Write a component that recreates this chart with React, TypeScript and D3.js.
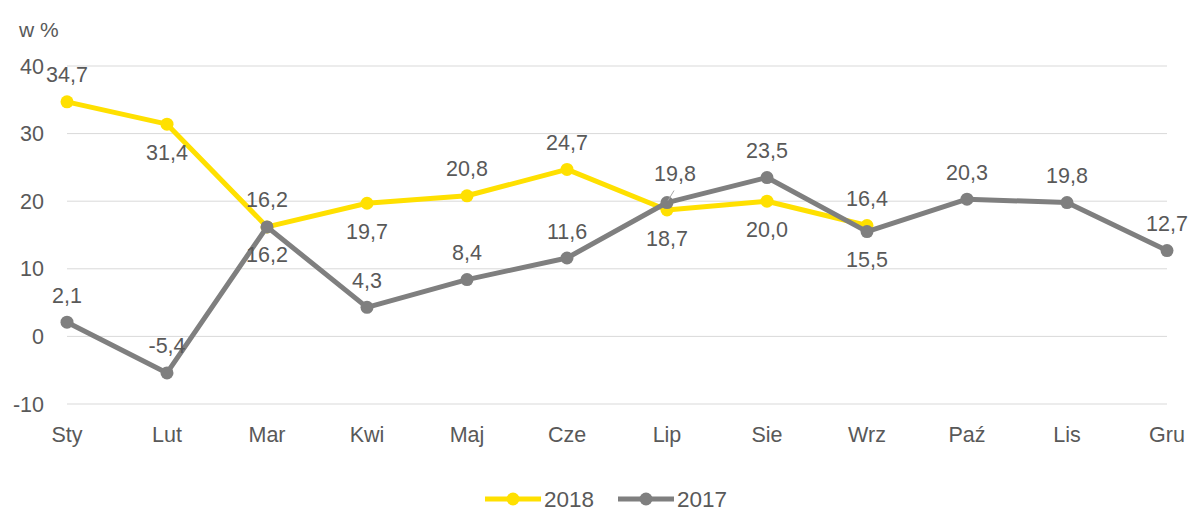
import React from "react";
import * as d3 from "d3";

const months = ["Sty", "Lut", "Mar", "Kwi", "Maj", "Cze", "Lip", "Sie", "Wrz", "Paź", "Lis", "Gru"];
const values2018: (number | null)[] = [34.7, 31.4, 16.2, 19.7, 20.8, 24.7, 18.7, 20.0, 16.4, null, null, null];
const values2017: number[] = [2.1, -5.4, 16.2, 4.3, 8.4, 11.6, 19.8, 23.5, 15.5, 20.3, 19.8, 12.7];
// label placement: 1 = above, -1 = below
const pos2018 = [1, -1, 1, -1, 1, 1, -1, -1, 1];
const pos2017 = [1, 1, -1, 1, 1, 1, 1, 1, -1, 1, 1, 1];
const yTicks = [-10, 0, 10, 20, 30, 40];

const W = 1200;
const H = 511;
const YELLOW = "#FFE000";
const GRAY = "#7F7F7F";
const TEXT = "#595959";
const FONT = "'Liberation Sans', Arial, sans-serif";

export default function App() {
  const x = d3.scalePoint<string>().domain(months).range([67, 1167]);
  const y = d3.scaleLinear().domain([-10, 40]).range([404, 66]);

  const fmt = (v: number) => v.toFixed(1).replace(".", ",");

  const line = d3
    .line<number | null>()
    .defined((d) => d !== null)
    .x((_, i) => x(months[i])!)
    .y((d) => y(d as number));

  const series = [
    { name: "2018", vals: values2018, color: YELLOW, pos: pos2018 },
    { name: "2017", vals: values2017 as (number | null)[], color: GRAY, pos: pos2017 },
  ];

  return (
    <svg width={W} height={H} style={{ position: "absolute", left: 0, top: 0, fontFamily: FONT }}>
      <rect width={W} height={H} fill="#fff" />
      <text x={19} y={37} fontSize={21} fill={TEXT}>w %</text>
      {yTicks.map((t) => (
        <g key={t}>
          <line x1={67} x2={1167} y1={y(t)} y2={y(t)} stroke="#D9D9D9" strokeWidth={1} />
          <text x={44} y={y(t)} dy="0.35em" textAnchor="end" fontSize={21.5} fill={TEXT}>{t}</text>
        </g>
      ))}
      {months.map((m) => (
        <text key={m} x={x(m)} y={442} textAnchor="middle" fontSize={21.5} fill={TEXT}>{m}</text>
      ))}
      {series.map((s) => (
        <g key={s.name}>
          <path d={line(s.vals) || ""} fill="none" stroke={s.color} strokeWidth={5} strokeLinejoin="round" />
          {s.vals.map((v, i) =>
            v === null ? null : (
              <circle key={i} cx={x(months[i])} cy={y(v)} r={6.5} fill={s.color} />
            )
          )}
        </g>
      ))}
      {/* leader for Lip 2017 label */}
      <line x1={x("Lip")! + 1} y1={y(19.8) - 2} x2={x("Lip")! + 7} y2={y(19.8) - 12} stroke="#A6A6A6" strokeWidth={1} />
      {series.map((s) =>
        s.vals.map((v, i) => {
          if (v === null) return null;
          const above = s.pos[i] === 1;
          const shiftX = s.name === "2017" && months[i] === "Lip" ? 8 : 0;
          const shiftY = s.name === "2017" && months[i] === "Lip" ? -2 : 0;
          return (
            <text
              key={s.name + i}
              x={x(months[i])! + shiftX}
              y={y(v) + (above ? -27 : 28) + shiftY}
              dy="0.35em"
              textAnchor="middle"
              fontSize={21.5}
              fill={TEXT}
            >
              {fmt(v)}
            </text>
          );
        })
      )}
      {/* legend */}
      <g transform="translate(485,499)">
        <line x1={0} x2={56} y1={0} y2={0} stroke={YELLOW} strokeWidth={5} />
        <circle cx={28} cy={0} r={6.5} fill={YELLOW} />
        <text x={59} y={8} fontSize={22.5} fill={TEXT}>2018</text>
        <line x1={133} x2={189} y1={0} y2={0} stroke={GRAY} strokeWidth={5} />
        <circle cx={161} cy={0} r={6.5} fill={GRAY} />
        <text x={192} y={8} fontSize={22.5} fill={TEXT}>2017</text>
      </g>
    </svg>
  );
}
